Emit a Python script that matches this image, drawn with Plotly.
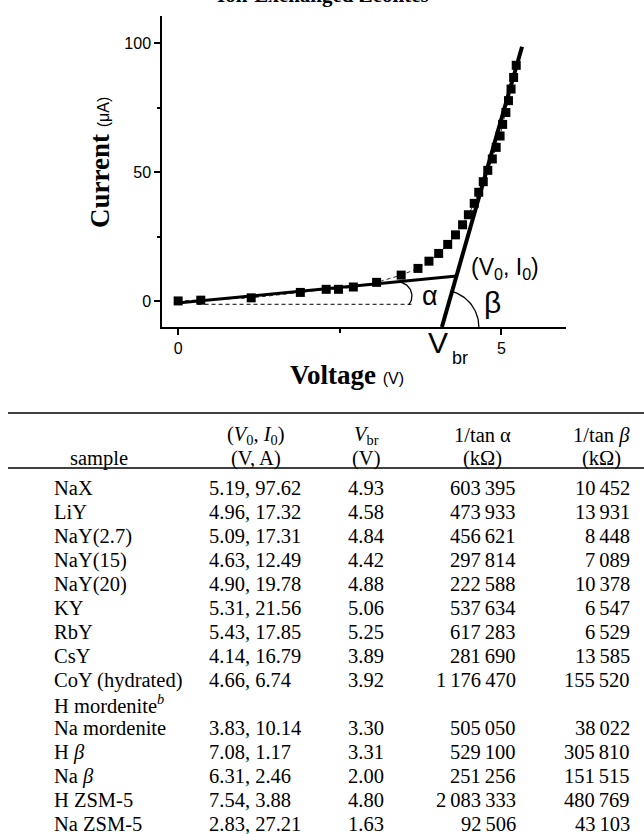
import numpy as np
import plotly.graph_objects as go

W, H = 644, 834

# ---- I-V curve (schematic breakdown measurement) ----
voltage = [0.00, 0.35, 1.13, 1.89, 2.29, 2.48, 2.71, 3.07, 3.45, 3.71, 3.88, 4.03,
           4.17, 4.29, 4.40, 4.49, 4.58, 4.65, 4.72, 4.79, 4.86, 4.92, 4.98, 5.02,
           5.07, 5.11, 5.15, 5.19, 5.23]
current = [0.1, 0.4, 1.3, 3.4, 4.6, 4.6, 5.5, 7.3, 10.1, 12.7, 15.5, 18.5,
           22.0, 25.7, 29.6, 33.5, 37.9, 42.2, 46.3, 50.7, 55.1, 59.6, 64.0, 68.5,
           73.1, 77.7, 82.2, 86.7, 91.4]

# tangent construction
low_fit_v = [-0.05, 4.31]
low_fit_i = [-0.8, 9.73]
steep_fit_v = [4.08, 5.32]
steep_fit_i = [-10.0, 98.6]
base_v = [0.30, 3.62]
base_i = [-1.2, -1.2]

X_RANGE = [-0.25, 6.0]
Y_RANGE = [-10.0, 110.5]
x_ticks = [0, 5]
y_ticks = [0, 50, 100]

# plot area in page pixels
PX0, PX1, PY0, PY1 = 162, 566, 16, 327

# ---- table ----
col_head_1 = ["", "(<i>V</i><sub>0</sub>, <i>I</i><sub>0</sub>)", "<i>V</i><sub>br</sub>",
              "1/tan α", "1/tan <i>β</i>"]
col_head_2 = ["sample", "(V, A)", "(V)", "(kΩ)", "(kΩ)"]
samples = ["NaX", "LiY", "NaY(2.7)", "NaY(15)", "NaY(20)", "KY", "RbY", "CsY",
           "CoY (hydrated)", "H mordenite<sup><i>b</i></sup>", "Na mordenite",
           "H <i>β</i>", "Na <i>β</i>", "H ZSM-5", "Na ZSM-5"]
v0 = [5.19, 4.96, 5.09, 4.63, 4.90, 5.31, 5.43, 4.14, 4.66, None, 3.83, 7.08, 6.31, 7.54, 2.83]
i0 = [97.62, 17.32, 17.31, 12.49, 19.78, 21.56, 17.85, 16.79, 6.74, None, 10.14, 1.17, 2.46, 3.88, 27.21]
vbr = [4.93, 4.58, 4.84, 4.42, 4.88, 5.06, 5.25, 3.89, 3.92, None, 3.30, 3.31, 2.00, 4.80, 1.63]
inv_tan_alpha = [603395, 473933, 456621, 297814, 222588, 537634, 617283, 281690, 1176470,
                 None, 505050, 529100, 251256, 2083333, 92506]
inv_tan_beta = [10452, 13931, 8448, 7089, 10378, 6547, 6529, 13585, 155520,
                None, 38022, 305810, 151515, 480769, 43103]


def px(x):
    return x / W


def py(y):
    return 1 - y / H


def grouped(n):
    return f"{n:,}".replace(",", "\u2009")


sx = (PX1 - PX0) / (X_RANGE[1] - X_RANGE[0])
sy = (PY1 - PY0) / (Y_RANGE[1] - Y_RANGE[0])


def arc(cv, ci, r_px, a0, a1):
    t = np.radians(np.linspace(a0, a1, 40))
    return cv + r_px * np.cos(t) / sx, ci + r_px * np.sin(t) / sy


fig = go.Figure()

fig.add_trace(go.Scatter(x=base_v, y=base_i, mode="lines",
                         line=dict(color="black", width=1, dash="4px,3px"),
                         hoverinfo="skip"))
fig.add_trace(go.Scatter(x=voltage, y=current, mode="lines+markers",
                         line=dict(color="black", width=0.8, dash="4px,3px"),
                         marker=dict(symbol="square", size=9, color="black"),
                         hoverinfo="skip"))
fig.add_trace(go.Scatter(x=low_fit_v, y=low_fit_i, mode="lines",
                         line=dict(color="black", width=3), hoverinfo="skip"))
fig.add_trace(go.Scatter(x=steep_fit_v, y=steep_fit_i, mode="lines",
                         line=dict(color="black", width=4), hoverinfo="skip"))

# angle arcs
av, ai = arc(3.40, 2.0, 14, -40, 90)
fig.add_trace(go.Scatter(x=av, y=ai, mode="lines", line=dict(color="black", width=1.3),
                         hoverinfo="skip"))
bv, bi = arc(steep_fit_v[0], steep_fit_i[0], 37, 0, 74)
fig.add_trace(go.Scatter(x=bv, y=bi, mode="lines", line=dict(color="black", width=1.3),
                         hoverinfo="skip", cliponaxis=False))

axis_common = dict(showline=True, linecolor="black", linewidth=1.5, ticks="outside",
                   tickcolor="black", tickwidth=1.5, ticklen=6, showgrid=False,
                   zeroline=False, tickfont=dict(family="Arial", size=16, color="black"))

fig.update_layout(
    width=W, height=H, margin=dict(l=0, r=0, t=0, b=0),
    paper_bgcolor="white", plot_bgcolor="white", showlegend=False,
    xaxis=dict(domain=[px(PX0), px(PX1)], range=X_RANGE, tickvals=x_ticks,
               minor=dict(tickvals=[2.5], ticks="outside", ticklen=4, tickcolor="black",
                          tickwidth=1.5),
               **axis_common),
    yaxis=dict(domain=[py(PY1), py(PY0)], range=Y_RANGE, tickvals=y_ticks,
               minor=dict(tickvals=[25, 75], ticks="outside", ticklen=3, tickcolor="black",
                          tickwidth=1.5),
               **axis_common),
)

ann = []
serif = "Liberation Serif"


def page_text(text, x, y, size, family=serif, xanchor="center", yanchor="middle", angle=0):
    ann.append(dict(text=text, x=px(x), y=py(y), xref="paper", yref="paper",
                    xanchor=xanchor, yanchor=yanchor, showarrow=False, textangle=angle,
                    font=dict(family=family, size=size, color="black")))


# title and axis titles
page_text("<b>Ion-Exchanged Zeolites</b>", 323, -5, 21)
page_text("<b>Voltage</b> <span style='font-family:Arial;font-size:16px'>(V)</span>",
          347, 375, 27)
page_text("<b>Current</b> <span style='font-family:Arial;font-size:16px'>(μA)</span>",
          100, 162, 27, angle=-90)

# construction labels
page_text("α", 430, 296, 27, family="Arial")
page_text("β", 492, 302, 30, family="Arial")
page_text("(V<sub>0</sub>, I<sub>0</sub>)", 505, 268, 23, family="Arial")
page_text("V", 438, 342, 30, family="Arial")
page_text("br", 460, 358, 18, family="Arial")

# table
TOP_RULE, HEAD_RULE = 413, 468
H1_Y, H2_Y = 435, 458
ROW0, ROW_STEP = 488, 24.0
C_SAMPLE, C_V0, C_VBR, C_A, C_B = 52, 207, 366, 518, 632
head_x = [99, 256, 366, 482, 601]
FS = 20.5

for hx, t1, t2 in zip(head_x, col_head_1, col_head_2):
    if t1:
        page_text(t1, hx, H1_Y, FS)
    page_text(t2, hx, H2_Y, FS)

for k, name in enumerate(samples):
    y = ROW0 + k * ROW_STEP
    page_text(name, C_SAMPLE, y, FS, xanchor="left")
    if v0[k] is not None:
        page_text(f"{v0[k]:.2f}, {i0[k]:.2f}", C_V0, y, FS, xanchor="left")
        page_text(f"{vbr[k]:.2f}", C_VBR, y, FS)
        page_text(grouped(inv_tan_alpha[k]), C_A, y, FS, xanchor="right")
        page_text(grouped(inv_tan_beta[k]), C_B, y, FS, xanchor="right")

fig.update_layout(annotations=ann)

shapes = []
for yy in (TOP_RULE, HEAD_RULE):
    shapes.append(dict(type="line", xref="paper", yref="paper", x0=px(8), x1=px(644),
                       y0=py(yy), y1=py(yy), line=dict(color="black", width=1.4)))
fig.update_layout(shapes=shapes)

fig.write_html("out.html")
